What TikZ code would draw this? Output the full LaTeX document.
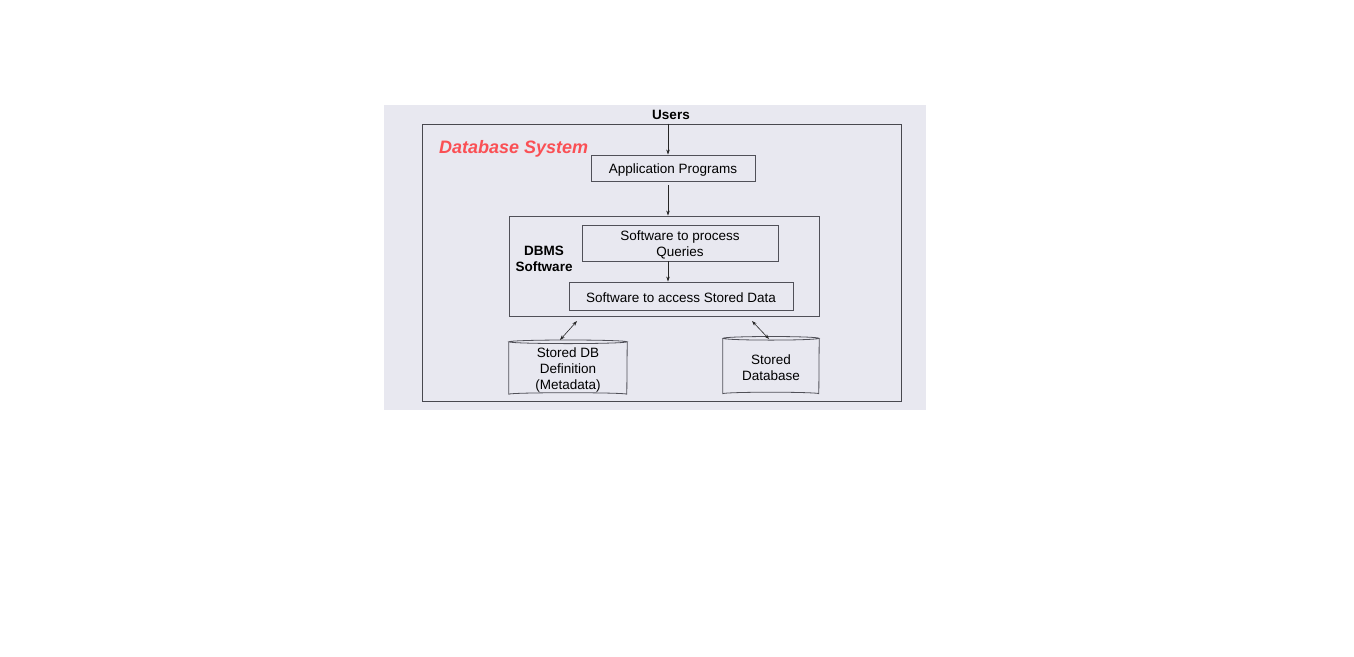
\documentclass[tikz,border=0pt]{standalone}
\usepackage{fontspec}
\setmainfont{Liberation Sans}
\usetikzlibrary{arrows.meta,calc}
\definecolor{bgc}{RGB}{232,232,240}
\definecolor{edge}{RGB}{80,80,88}
\definecolor{redt}{RGB}{250,80,85}
\tikzset{
  txt/.style={inner sep=0pt,align=center,yshift=-1.7pt,font=\fontsize{13.5}{16}\selectfont},
  box/.style={draw=edge,line width=0.9pt,inner sep=0pt},
  lbl/.style={txt,font=\fontsize{13.5}{16}\selectfont\bfseries},
  arr/.style={draw=black!85,line width=0.6pt,-{Stealth[length=5pt,width=3.5pt]}},
  darr/.style={draw=black!85,line width=0.6pt,{Stealth[length=5pt,width=3.5pt]}-{Stealth[length=5pt,width=3.5pt]}},
  cylwall/.style={draw=edge,line width=0.8pt}
}
\begin{document}
\begin{tikzpicture}[x=1pt,y=-1pt]
\useasboundingbox (0,0) rectangle (1354,656);
\fill[white] (0,0) rectangle (1354,656);
\fill[bgc] (384,105) rectangle (926,410);
% frame
\node[draw=edge!90!black,line width=0.9pt,minimum width=479pt,minimum height=277pt,inner sep=0pt] (frame) at (661.5,262.5) {};
\node[lbl] (users) at (671,113) {Users};
\node[inner sep=0pt,anchor=west,yshift=-1.7pt,text=redt,font=\fontsize{18}{20}\selectfont\bfseries\itshape] (title) at (439,147) {Database System};
\node[box,minimum width=164pt,minimum height=26pt,label={[txt]center:Application Programs}] (app) at (673,168) {};
\node[box,minimum width=310pt,minimum height=100pt] (dbms) at (664,266) {};
\node[lbl] (dbmsl) at (544,257) {DBMS\\Software};
\node[box,minimum width=196pt,minimum height=36pt,label={[txt]center:{Software to process\\Queries}}] (query) at (680,243) {};
\node[box,minimum width=224pt,minimum height=28pt,label={[txt]center:Software to access Stored Data}] (access) at (681,296) {};
% cylinders
\node[inner sep=0pt,minimum width=118pt,minimum height=52pt] (sdb) at (568,368) {};
\node[inner sep=0pt,minimum width=96pt,minimum height=55pt] (sd) at (771,366) {};
\foreach \c/\r in {sdb/59,sd/48}{
  \draw[cylwall,fill=bgc] (\c.north west) -- (\c.south west) arc[start angle=180,end angle=360,x radius=\r,y radius=1.5] -- (\c.north east);
  \draw[cylwall] (\c.north) ellipse[x radius=\r,y radius=1.8];
}
\node[txt] (sdbt) at (sdb) {Stored DB\\Definition\\(Metadata)};
\node[txt] (sdt) at (sd) {Stored\\Database};
% arrows
\coordinate (ax) at (668,0);
\draw[arr] (frame.north -| ax) -- (app.north -| ax);
\draw[arr,shorten <=4pt] (app.south -| ax) -- (dbms.north -| ax);
\draw[arr] (query.south -| ax) -- (access.north -| ax);
\coordinate (l1) at (577,321);
\coordinate (l2) at (560,340);
\coordinate (r1) at (752,321);
\coordinate (r2) at (769,339);
\draw[darr] (l1) -- (l2);
\draw[darr] (r1) -- (r2);
\end{tikzpicture}
\end{document}
